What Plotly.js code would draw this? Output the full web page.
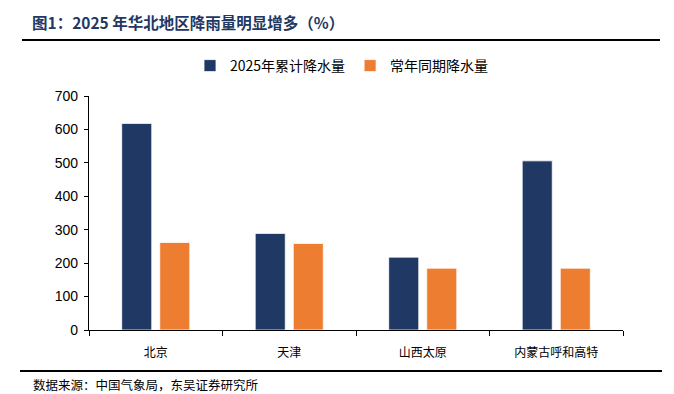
<!DOCTYPE html>
<html><head><meta charset="utf-8">
<script src="https://cdn.plot.ly/plotly-3.0.1.min.js"></script>
<style>body{margin:0;padding:0;background:#fff}#c{width:674px;height:394px}</style>
</head><body><div id="c"></div>
<script>
const categories = ["北京", "天津", "山西太原", "内蒙古呼和高特"];
const seriesNames = ["2025年累计降水量", "常年同期降水量"];
const rain2025 = [618, 289, 218, 506];
const rainNormal = [262, 259, 185, 185];
const yTicks = [0, 100, 200, 300, 400, 500, 600, 700];

const cjk = '"Noto Sans CJK SC", sans-serif';
const L = 89, R = 623, T = 96, B = 330;
const px = x => (x - L) / (R - L);
const py = y => (B - y) / (B - T);

const traces = [
  {type: 'bar', name: seriesNames[0], x: categories, y: rain2025,
   marker: {color: '#1F3864', line: {color: '#ffffff', width: 0.8}}},
  {type: 'bar', name: seriesNames[1], x: categories, y: rainNormal,
   marker: {color: '#ED7D31', line: {color: '#ffffff', width: 0.8}}}
];

const layout = {
  width: 674, height: 394,
  margin: {l: L, r: 674 - R, t: T, b: 394 - B, pad: 0},
  paper_bgcolor: '#fff', plot_bgcolor: '#fff',
  barmode: 'group', bargap: 0.43, bargroupgap: 0.21,
  showlegend: true,
  title: {text: '<b>图1：2025 年华北地区降雨量明显增多（%）</b>',
          font: {family: cjk, size: 15.5, color: '#1F3864'},
          x: 32 / 674, xanchor: 'left', xref: 'container', y: 1 - 24 / 394, yanchor: 'middle', yref: 'container'},
  legend: {orientation: 'h', x: px(342), xanchor: 'center', y: py(66), yanchor: 'middle',
           font: {family: cjk, size: 14, color: '#000'}, itemwidth: 30, tracegroupgap: 0,
           bgcolor: 'rgba(0,0,0,0)'},
  xaxis: {type: 'category', tickson: 'boundaries', ticks: 'outside', ticklen: 5, tickcolor: '#000',
          showline: true, linecolor: '#000', linewidth: 1.2, showgrid: false, zeroline: false,
          ticklabelstandoff: 11,
          tickfont: {family: cjk, size: 12, color: '#000'}, fixedrange: true},
  yaxis: {range: [0, 700], tickvals: yTicks, ticks: 'outside', ticklen: 4, tickcolor: '#000',
          showline: true, linecolor: '#000', linewidth: 1.2, showgrid: false, zeroline: false,
          ticklabelstandoff: 3,
          tickfont: {family: 'Liberation Sans, Arial, sans-serif', size: 14, color: '#000'}},
  shapes: [
    {type: 'line', xref: 'paper', yref: 'paper', x0: px(22), x1: px(660), y0: py(40), y1: py(40),
     line: {color: '#000', width: 2}},
    {type: 'line', xref: 'paper', yref: 'paper', x0: px(20), x1: px(662), y0: py(371), y1: py(371),
     line: {color: '#000', width: 2}}
  ],
  annotations: [
    {text: '数据来源：中国气象局，东吴证券研究所', xref: 'paper', yref: 'paper',
     x: px(31), y: py(384), xanchor: 'left', yanchor: 'middle', showarrow: false,
     font: {family: cjk, size: 12.5, color: '#000'}}
  ]
};
Plotly.newPlot('c', traces, layout, {displayModeBar: false, staticPlot: true});
</script></body></html>
